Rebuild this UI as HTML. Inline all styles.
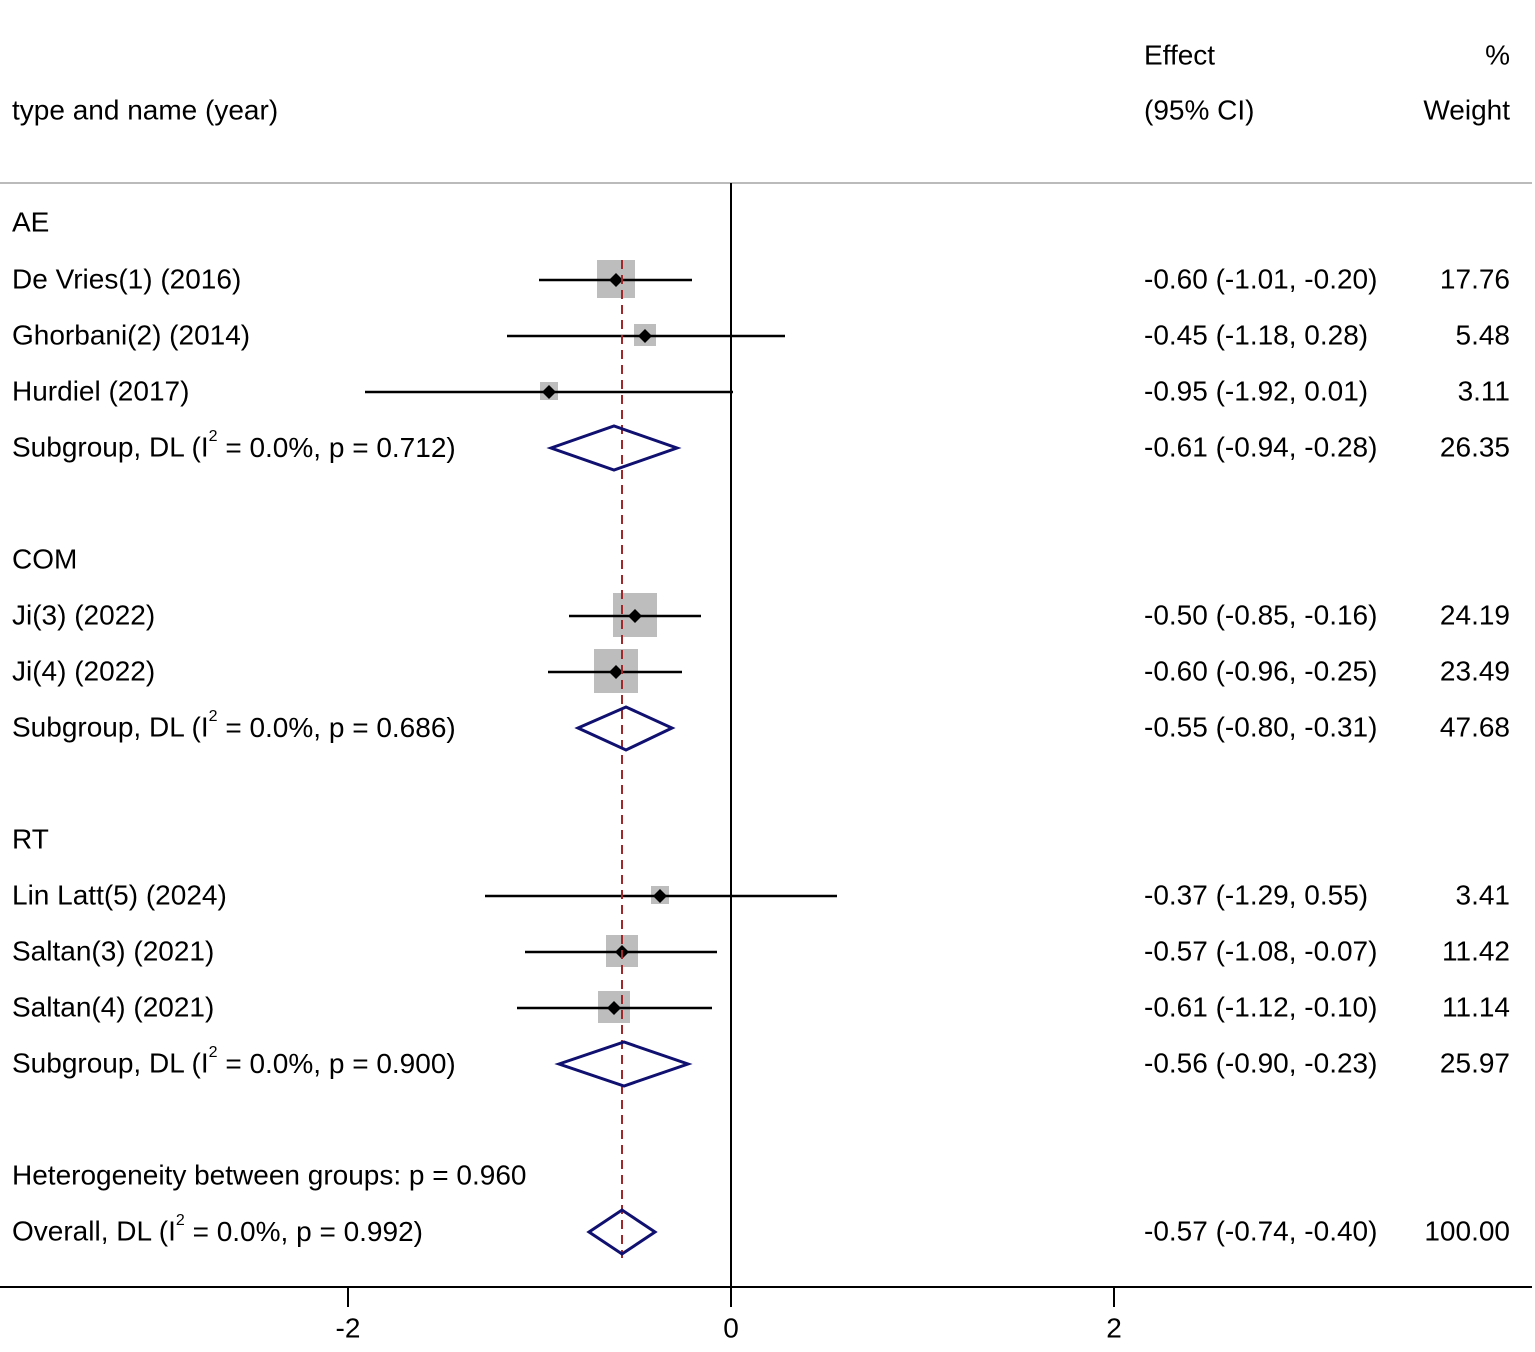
<!DOCTYPE html>
<html><head><meta charset="utf-8"><style>
body{margin:0;background:#fff}
svg text{font-family:"Liberation Sans",Arial,sans-serif;font-size:28px;fill:#000}
</style></head><body>
<svg width="1535" height="1347" viewBox="0 0 1535 1347" xmlns="http://www.w3.org/2000/svg">
<g dominant-baseline="central">
<text x="1144" y="55">Effect</text><text x="1510" y="55" text-anchor="end">%</text>
<text x="12" y="110">type and name (year)</text>
<text x="1144" y="110">(95% CI)</text><text x="1510" y="110" text-anchor="end">Weight</text>
</g>
<line x1="0" y1="183" x2="1532" y2="183" stroke="#bbb" stroke-width="2"/>
<line x1="731" y1="183" x2="731" y2="1287" stroke="#000" stroke-width="2"/>
<line x1="0" y1="1287" x2="1532" y2="1287" stroke="#000" stroke-width="2"/>
<g stroke="#000" stroke-width="2"><line x1="348" y1="1287" x2="348" y2="1307"/><line x1="731" y1="1287" x2="731" y2="1307"/><line x1="1114" y1="1287" x2="1114" y2="1307"/></g>
<g dominant-baseline="central" text-anchor="middle"><text x="348" y="1328">-2</text><text x="731" y="1328">0</text><text x="1114" y="1328">2</text></g>
<g fill="#bdbdbd">
<rect x="597" y="260" width="38" height="38"/>
<rect x="634" y="324" width="22" height="22"/>
<rect x="540" y="382" width="18" height="18"/>
<rect x="613" y="593" width="44" height="44"/>
<rect x="594" y="649" width="44" height="44"/>
<rect x="651" y="886" width="18" height="18"/>
<rect x="606" y="935" width="32" height="32"/>
<rect x="598" y="991" width="32" height="32"/>
</g>
<g stroke="#000" stroke-width="2.5">
<line x1="539" y1="280" x2="692" y2="280"/>
<line x1="507" y1="336" x2="785" y2="336"/>
<line x1="365" y1="392" x2="733" y2="392"/>
<line x1="569" y1="616" x2="701" y2="616"/>
<line x1="548" y1="672" x2="682" y2="672"/>
<line x1="485" y1="896" x2="837" y2="896"/>
<line x1="525" y1="952" x2="717" y2="952"/>
<line x1="517" y1="1008" x2="712" y2="1008"/>
</g>
<g fill="#000">
<polygon points="616,273 623,280 616,287 609,280"/>
<polygon points="645,329 652,336 645,343 638,336"/>
<polygon points="549,385 556,392 549,399 542,392"/>
<polygon points="635,609 642,616 635,623 628,616"/>
<polygon points="616,665 623,672 616,679 609,672"/>
<polygon points="660,889 667,896 660,903 653,896"/>
<polygon points="622,945 629,952 622,959 615,952"/>
<polygon points="614,1001 621,1008 614,1015 607,1008"/>
</g>
<line x1="622" y1="260" x2="622" y2="1258" stroke="#a0282a" stroke-width="2" stroke-dasharray="9,6"/>
<g fill="none" stroke="#101070" stroke-width="3">
<polygon points="551,448 614,426 677,448 614,470"/>
<polygon points="578,728 626,707 672,728 626,750"/>
<polygon points="559,1064 624,1042 688,1064 624,1086"/>
<polygon points="589,1232 622,1210 655,1232 622,1254"/>
</g>
<g dominant-baseline="central">
<text x="12" y="222">AE</text>
<text x="12" y="279">De Vries(1) (2016)</text>
<text x="12" y="335">Ghorbani(2) (2014)</text>
<text x="12" y="391">Hurdiel (2017)</text>
<text x="12" y="447">Subgroup, DL (I<tspan font-size="16" dy="-11">2</tspan><tspan dy="11"> = 0.0%, p = 0.712)</tspan></text>
<text x="12" y="559">COM</text>
<text x="12" y="615">Ji(3) (2022)</text>
<text x="12" y="671">Ji(4) (2022)</text>
<text x="12" y="727">Subgroup, DL (I<tspan font-size="16" dy="-11">2</tspan><tspan dy="11"> = 0.0%, p = 0.686)</tspan></text>
<text x="12" y="839">RT</text>
<text x="12" y="895">Lin Latt(5) (2024)</text>
<text x="12" y="951">Saltan(3) (2021)</text>
<text x="12" y="1007">Saltan(4) (2021)</text>
<text x="12" y="1063">Subgroup, DL (I<tspan font-size="16" dy="-11">2</tspan><tspan dy="11"> = 0.0%, p = 0.900)</tspan></text>
<text x="12" y="1175">Heterogeneity between groups: p = 0.960</text>
<text x="12" y="1231">Overall, DL (I<tspan font-size="16" dy="-11">2</tspan><tspan dy="11"> = 0.0%, p = 0.992)</tspan></text>
<text x="1144" y="279">-0.60 (-1.01, -0.20)</text>
<text x="1144" y="335">-0.45 (-1.18, 0.28)</text>
<text x="1144" y="391">-0.95 (-1.92, 0.01)</text>
<text x="1144" y="447">-0.61 (-0.94, -0.28)</text>
<text x="1144" y="615">-0.50 (-0.85, -0.16)</text>
<text x="1144" y="671">-0.60 (-0.96, -0.25)</text>
<text x="1144" y="727">-0.55 (-0.80, -0.31)</text>
<text x="1144" y="895">-0.37 (-1.29, 0.55)</text>
<text x="1144" y="951">-0.57 (-1.08, -0.07)</text>
<text x="1144" y="1007">-0.61 (-1.12, -0.10)</text>
<text x="1144" y="1063">-0.56 (-0.90, -0.23)</text>
<text x="1144" y="1231">-0.57 (-0.74, -0.40)</text>
</g>
<g dominant-baseline="central" text-anchor="end">
<text x="1510" y="279">17.76</text>
<text x="1510" y="335">5.48</text>
<text x="1510" y="391">3.11</text>
<text x="1510" y="447">26.35</text>
<text x="1510" y="615">24.19</text>
<text x="1510" y="671">23.49</text>
<text x="1510" y="727">47.68</text>
<text x="1510" y="895">3.41</text>
<text x="1510" y="951">11.42</text>
<text x="1510" y="1007">11.14</text>
<text x="1510" y="1063">25.97</text>
<text x="1510" y="1231">100.00</text>
</g>
</svg>
</body></html>
